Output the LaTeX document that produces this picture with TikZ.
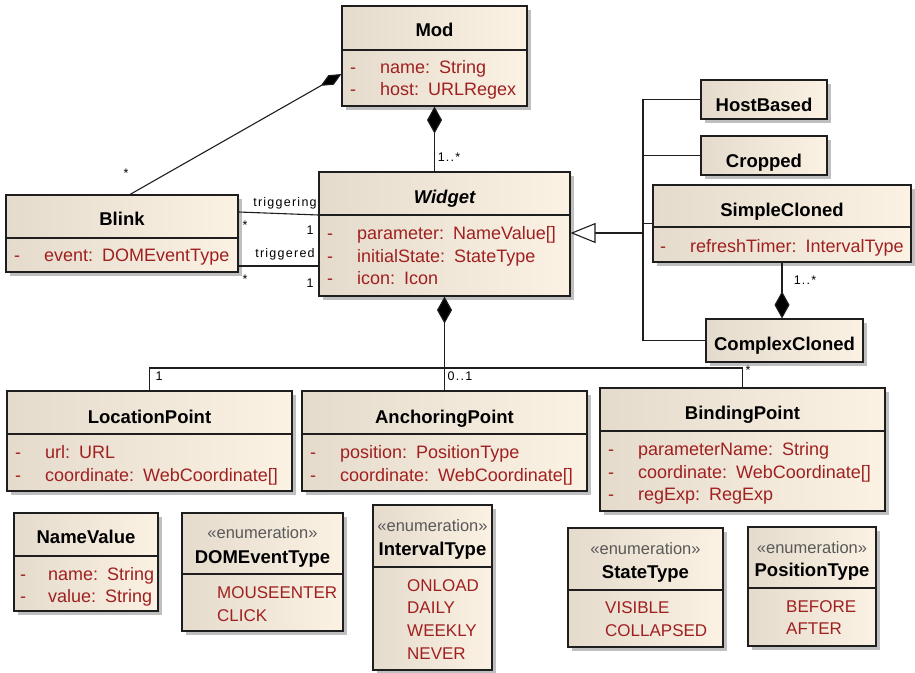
\documentclass[tikz,border=0pt]{standalone}
\usepackage{fontspec}
\setmainfont{Liberation Sans}
\usetikzlibrary{arrows.meta}
\usetikzlibrary{shadows}
\definecolor{boxleft}{RGB}{228,219,205}
\definecolor{boxright}{RGB}{251,242,228}
\definecolor{attrred}{RGB}{160,32,32}
\definecolor{umlline}{RGB}{30,30,30}
\tikzset{umlclass/.style={draw=umlline, line width=1.1pt, left color=boxleft, right color=boxright, inner sep=0pt,
    drop shadow={shadow xshift=4pt, shadow yshift=-4pt, fill=black!25, opacity=1}}}
\tikzset{umldiv/.style={draw=umlline, line width=1.1pt}}
\tikzset{umltitle/.style={inner sep=0pt, anchor=base, font=\bfseries\fontsize{18.5}{22}\selectfont}}
\tikzset{umlattr/.style={inner sep=0pt, anchor=base west, text=attrred, font=\fontsize{18}{22}\selectfont}}
\tikzset{umllit/.style={umlattr, font=\fontsize{17}{20}\selectfont}}
\tikzset{umlstereo/.style={inner sep=0pt, anchor=base, text=black!65, font=\fontsize{16.5}{19}\selectfont}}
\tikzset{umlmult/.style={inner sep=0pt, font=\fontsize{12.5}{15}\selectfont\addfontfeatures{LetterSpace=10}}}
\tikzset{assoc/.style={draw=umlline, line width=1.1pt}}
\tikzset{compose/.style={assoc, -{Diamond[length=27pt, width=15pt, fill=black]}}}
\tikzset{generalize/.style={assoc, -{Triangle[length=25pt, width=20pt, fill=white]}}}
\newcommand{\vis}{\makebox[30pt][l]{-}}
\newcommand{\typesep}{\hspace{9pt}}

\begin{document}
\begin{tikzpicture}[x=1pt, y=-1pt]
    \path[use as bounding box] (0, 0) rectangle (915, 672);

    % Mod
    \node[umlclass, minimum width=185pt, minimum height=100pt] at (434.5, 56) (mod) {};
    \draw[umldiv] (mod.west |- 0,50) -- (mod.east |- 0,50);
    \node[umltitle] at (434.5, 36) (mod-t) {Mod};
    \node[umlattr] at (350, 73) (mod-a1) {\vis name:\typesep String};
    \node[umlattr] at (350, 95) (mod-a2) {\vis host:\typesep URLRegex};

    % Widget
    \node[umlclass, minimum width=251pt, minimum height=124pt] at (444.5, 234) (widget) {};
    \draw[umldiv] (widget.west |- 0,215) -- (widget.east |- 0,215);
    \node[umltitle] at (444.5, 203) (widget-t) {\itshape Widget};
    \node[umlattr] at (327, 239) (widget-a1) {\vis parameter:\typesep NameValue[]};
    \node[umlattr] at (327, 262) (widget-a2) {\vis initialState:\typesep StateType};
    \node[umlattr] at (327, 284) (widget-a3) {\vis icon:\typesep Icon};

    % Blink
    \node[umlclass, minimum width=232pt, minimum height=77pt] at (122, 233.5) (blink) {};
    \draw[umldiv] (blink.west |- 0,238) -- (blink.east |- 0,238);
    \node[umltitle] at (122, 225) (blink-t) {Blink};
    \node[umlattr] at (14, 261) (blink-a1) {\vis event:\typesep DOMEventType};

    % subclasses of Widget
    \node[umlclass, minimum width=126pt, minimum height=39pt] at (764, 99.5) (hostbased) {};
    \node[umltitle] at (764, 111) (hostbased-t) {HostBased};
    \node[umlclass, minimum width=126pt, minimum height=39pt] at (764, 155.5) (cropped) {};
    \node[umltitle] at (764, 167) (cropped-t) {Cropped};
    \node[umlclass, minimum width=258pt, minimum height=77pt] at (782, 223.5) (simplecloned) {};
    \draw[umldiv] (simplecloned.west |- 0,227) -- (simplecloned.east |- 0,227);
    \node[umltitle] at (782, 216) (simplecloned-t) {SimpleCloned};
    \node[umlattr] at (660, 252) (simplecloned-a1) {\vis refreshTimer:\typesep IntervalType};
    \node[umlclass, minimum width=157pt, minimum height=43pt] at (784.5, 340.5) (complexcloned) {};
    \node[umltitle] at (784.5, 350) (complexcloned-t) {ComplexCloned};

    % points
    \node[umlclass, minimum width=285pt, minimum height=100pt] at (149.5, 441) (locationpoint) {};
    \draw[umldiv] (locationpoint.west |- 0,434) -- (locationpoint.east |- 0,434);
    \node[umltitle] at (149.5, 423) (locationpoint-t) {LocationPoint};
    \node[umlattr] at (15, 458) (locationpoint-a1) {\vis url:\typesep URL};
    \node[umlattr] at (15, 481) (locationpoint-a2) {\vis coordinate:\typesep WebCoordinate[]};

    \node[umlclass, minimum width=285pt, minimum height=100pt] at (444.5, 441) (anchoringpoint) {};
    \draw[umldiv] (anchoringpoint.west |- 0,434) -- (anchoringpoint.east |- 0,434);
    \node[umltitle] at (444.5, 423) (anchoringpoint-t) {AnchoringPoint};
    \node[umlattr] at (310, 458) (anchoringpoint-a1) {\vis position:\typesep PositionType};
    \node[umlattr] at (310, 481) (anchoringpoint-a2) {\vis coordinate:\typesep WebCoordinate[]};

    \node[umlclass, minimum width=285pt, minimum height=123pt] at (742.5, 449.5) (bindingpoint) {};
    \draw[umldiv] (bindingpoint.west |- 0,431) -- (bindingpoint.east |- 0,431);
    \node[umltitle] at (742.5, 419) (bindingpoint-t) {BindingPoint};
    \node[umlattr] at (608, 455) (bindingpoint-a1) {\vis parameterName:\typesep String};
    \node[umlattr] at (608, 478) (bindingpoint-a2) {\vis coordinate:\typesep WebCoordinate[]};
    \node[umlattr] at (608, 500) (bindingpoint-a3) {\vis regExp:\typesep RegExp};

    % data types
    \node[umlclass, minimum width=144pt, minimum height=98pt] at (86, 562) (namevalue) {};
    \draw[umldiv] (namevalue.west |- 0,556) -- (namevalue.east |- 0,556);
    \node[umltitle] at (86, 543) (namevalue-t) {NameValue};
    \node[umlattr] at (20, 580) (namevalue-a1) {\makebox[28pt][l]{-}name:\typesep String};
    \node[umlattr] at (20, 602) (namevalue-a2) {\makebox[28pt][l]{-}value:\typesep String};

    \node[umlclass, minimum width=161pt, minimum height=118pt] at (262.5, 572) (domeventtype) {};
    \draw[umldiv] (domeventtype.west |- 0,574) -- (domeventtype.east |- 0,574);
    \node[umlstereo] at (262.5, 538) (domeventtype-s) {«enumeration»};
    \node[umltitle] at (262.5, 563) (domeventtype-t) {DOMEventType};
    \node[umllit] at (217, 598) (domeventtype-l1) {MOUSEENTER};
    \node[umllit] at (217, 621) (domeventtype-l2) {CLICK};

    \node[umlclass, minimum width=119pt, minimum height=165pt] at (432.5, 587.5) (intervaltype) {};
    \draw[umldiv] (intervaltype.west |- 0,567) -- (intervaltype.east |- 0,567);
    \node[umlstereo] at (432.5, 531) (intervaltype-s) {«enumeration»};
    \node[umltitle] at (432.5, 555) (intervaltype-t) {IntervalType};
    \node[umllit] at (407, 591) (intervaltype-l1) {ONLOAD};
    \node[umllit] at (407, 613) (intervaltype-l2) {DAILY};
    \node[umllit] at (407, 636) (intervaltype-l3) {WEEKLY};
    \node[umllit] at (407, 659) (intervaltype-l4) {NEVER};

    \node[umlclass, minimum width=155pt, minimum height=119pt] at (645.5, 587.5) (statetype) {};
    \draw[umldiv] (statetype.west |- 0,590) -- (statetype.east |- 0,590);
    \node[umlstereo] at (645.5, 554) (statetype-s) {«enumeration»};
    \node[umltitle] at (645.5, 578) (statetype-t) {StateType};
    \node[umllit] at (605, 613) (statetype-l1) {VISIBLE};
    \node[umllit] at (605, 636) (statetype-l2) {COLLAPSED};

    \node[umlclass, minimum width=128pt, minimum height=119pt] at (812, 586.5) (positiontype) {};
    \draw[umldiv] (positiontype.west |- 0,588) -- (positiontype.east |- 0,588);
    \node[umlstereo] at (812, 553) (positiontype-s) {«enumeration»};
    \node[umltitle] at (812, 576) (positiontype-t) {PositionType};
    \node[umllit] at (786, 612) (positiontype-l1) {BEFORE};
    \node[umllit] at (786, 634) (positiontype-l2) {AFTER};

    % connectors
    \draw[compose, -{Diamond[length=24pt, width=11pt, fill=black]}] ([xshift=8pt]blink.north) -- ([yshift=-18pt]mod.west);
    \node[umlmult] at (126, 173) (blink-m) {*};

    \draw[compose] (mod.south |- widget.north) -- (mod.south);
    \node[umlmult] at (449, 157) (mod-m) {1..*};

    \draw[assoc] ([yshift=21.5pt]blink.east) -- ([yshift=19pt]widget.west);
    \node[umlmult] at (285, 203) (triggering) {triggering};
    \node[umlmult] at (245, 225) (triggering-m1) {*};
    \node[umlmult] at (310, 230) (triggering-m2) {1};
    \draw[assoc] ([yshift=-32.5pt]blink.east) -- ([yshift=-32pt]widget.west);
    \node[umlmult] at (285, 254) (triggered) {triggered};
    \node[umlmult] at (245, 279) (triggered-m1) {*};
    \node[umlmult] at (310, 283) (triggered-m2) {1};

    \coordinate (gentrunk) at (643, 233);
    \draw[assoc] (hostbased.west) -| (gentrunk);
    \draw[assoc] (cropped.west) -| (gentrunk);
    \draw[assoc] (simplecloned.west) -| (gentrunk);
    \draw[assoc] (complexcloned.west) -| (gentrunk);
    \draw[generalize] (gentrunk) -- (widget.east |- gentrunk);

    \draw[compose] (simplecloned.south) -- (simplecloned.south |- complexcloned.north);
    \node[umlmult] at (805, 280) (simplecloned-m) {1..*};

    \coordinate (pointbranch) at (444.5, 368);
    \draw[compose] (pointbranch) -- (widget.south);
    \draw[assoc] (locationpoint.north) |- (pointbranch) -| (bindingpoint.north);
    \draw[assoc] (anchoringpoint.north) -- (pointbranch);
    \node[umlmult] at (159, 376) (locationpoint-m) {1};
    \node[umlmult] at (460, 376) (anchoringpoint-m) {0..1};
    \node[umlmult] at (748, 370) (bindingpoint-m) {*};
\end{tikzpicture}
\end{document}
